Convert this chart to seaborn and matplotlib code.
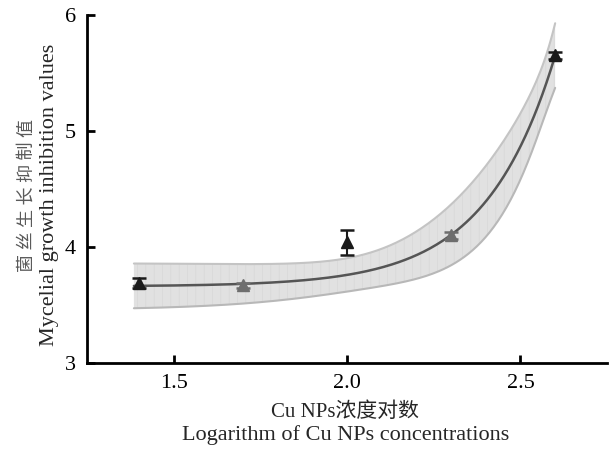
import numpy as np
import pandas as pd
import seaborn as sns
import matplotlib.pyplot as plt

# measured points (log10 of Cu NPs concentration vs inhibition value)
log_conc = [1.4, 1.7, 2.0, 2.3, 2.6]
inhibition = [3.69, 3.67, 4.04, 4.10, 5.65]
inhibition_err = [0.04, 0.02, 0.11, 0.03, 0.03]
marker_colors = ['#1a1a1a', '#6e6e6e', '#1a1a1a', '#6e6e6e', '#1a1a1a']

sns.set_style('ticks')
plt.rcParams['font.family'] = ['Liberation Serif', 'Noto Sans CJK SC']
plt.rcParams['hatch.linewidth'] = 0.5

x = np.array(log_conc)
y = np.array(inhibition)
w = 1 / np.array(inhibition_err)

# exponential fit y = a + b*exp(c*x), weighted by 1/err: scan c, solve a, b
best = None
for c in np.linspace(1, 12, 2201):
    A = np.column_stack([np.ones_like(x), np.exp(c * x)])
    coef, _, _, _ = np.linalg.lstsq(A * w[:, None], y * w, rcond=None)
    wsse = np.sum(((A @ coef - y) * w) ** 2)
    if best is None or wsse < best[0]:
        best = (wsse, coef[0], coef[1], c)
_, a, b, c = best

xs = np.linspace(1.385, 2.6, 200)
fit = a + b * np.exp(c * xs)

# confidence band of the fitted mean
J = np.column_stack([np.ones_like(x), np.exp(c * x), b * x * np.exp(c * x)])
resid = y - (a + b * np.exp(c * x))
s2 = np.sum(resid ** 2) / (len(x) - 3)
cov = s2 * np.linalg.pinv(J.T @ J)
G = np.column_stack([np.ones_like(xs), np.exp(c * xs), b * xs * np.exp(c * xs)])
se = np.sqrt(np.einsum('ij,jk,ik->i', G, cov, G))
lo, hi = fit - 1.4 * se, fit + 1.4 * se

fig = plt.figure(figsize=(6.09, 4.5), dpi=100)
ax = fig.add_axes([0.143, 0.193, 0.854, 0.774])

ax.fill_between(xs, lo, hi, facecolor='#e1e1e1', edgecolor='#d7d7d7', hatch='||',
                lw=0, zorder=1)
ax.plot(xs, lo, color='#b8b8b8', lw=1.5, zorder=2)
ax.plot(xs, hi, color='#c4c4c4', lw=1.5, zorder=2)

fit_df = pd.DataFrame({'x': xs, 'y': fit})
sns.lineplot(data=fit_df, x='x', y='y', ax=ax, color='#555555', lw=1.8, zorder=3)

for xi, yi, ei, col in zip(log_conc, inhibition, inhibition_err, marker_colors):
    ax.errorbar(xi, yi, yerr=ei, fmt='^', color=col, ms=8, capsize=5,
                elinewidth=1.5, capthick=1.8, zorder=4)

ax.set_xlim(1.25, 2.75)
ax.set_ylim(3, 6)
ax.set_xticks([1.5, 2.0, 2.5])
ax.set_xticklabels(['1.5', '2.0', '2.5'])
ax.set_yticks([3, 4, 5, 6])
ax.tick_params(direction='in', length=6, width=2, labelsize=16, colors='black', pad=8)
for side in ['top', 'right']:
    ax.spines[side].set_visible(False)
for side in ['left', 'bottom']:
    ax.spines[side].set_linewidth(2)
    ax.spines[side].set_color('black')

ax.set_xlabel('')
ax.set_ylabel('')
fig.text(0.567, 0.085, 'Cu NPs浓度对数', ha='center', va='center', fontsize=15)
fig.text(0.567, 0.033, 'Logarithm of Cu NPs concentrations', ha='center', va='center',
         fontsize=16)
fig.text(0.045, 0.566, '菌 丝 生 长 抑 制 值', rotation=90, ha='center', va='center',
         fontsize=13, color='#5a5a5a')
fig.text(0.081, 0.566, 'Mycelial growth inhibition values', rotation=90, ha='center',
         va='center', fontsize=16)

fig.savefig('out.png', dpi=100)
